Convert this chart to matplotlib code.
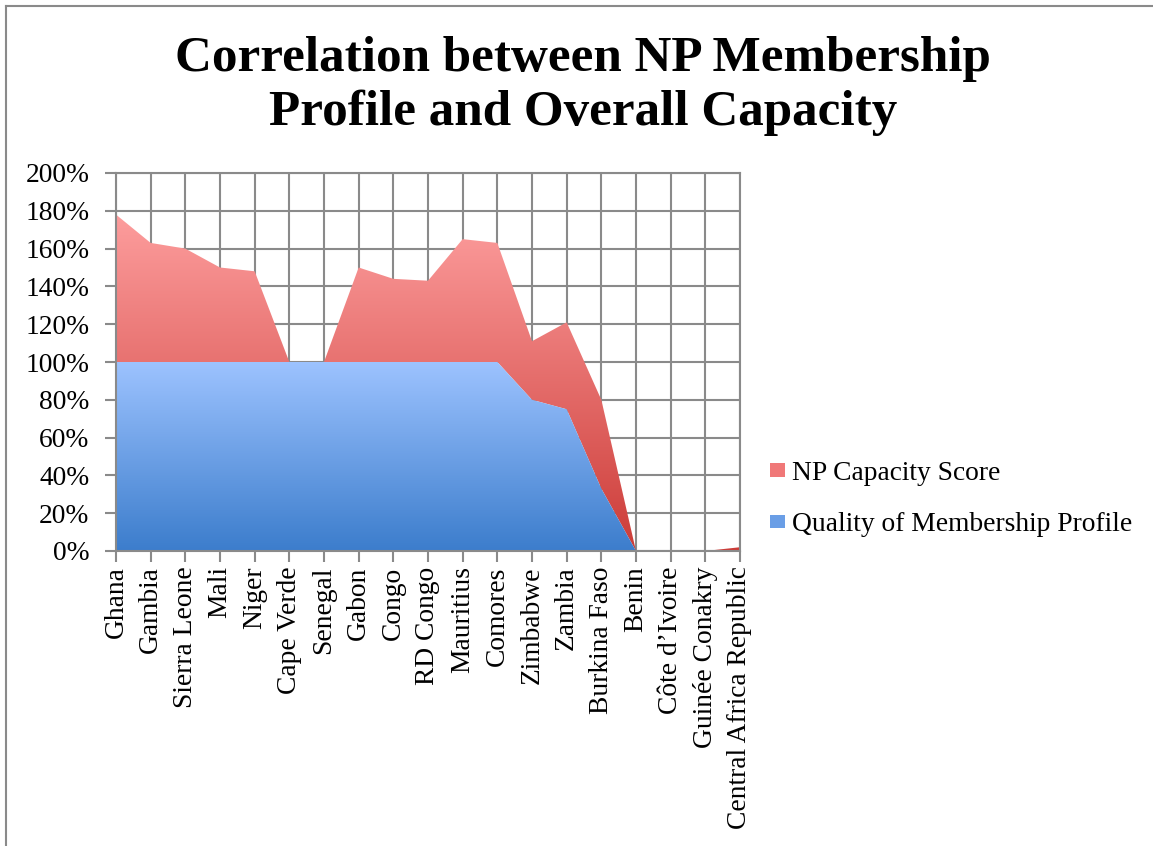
import numpy as np
import matplotlib.pyplot as plt
from matplotlib.colors import LinearSegmentedColormap
from matplotlib.patches import Patch
from matplotlib.lines import Line2D

# Data (percent)
countries = ["Ghana", "Gambia", "Sierra Leone", "Mali", "Niger", "Cape Verde",
             "Senegal", "Gabon", "Congo", "RD Congo", "Mauritius", "Comores",
             "Zimbabwe", "Zambia", "Burkina Faso", "Benin", "Côte d’Ivoire",
             "Guinée Conakry", "Central Africa Republic"]
membership = [100, 100, 100, 100, 100, 100, 100, 100, 100, 100, 100, 100,
              80, 75, 33, 0, 0, 0, 0]
capacity = [78, 63, 60, 50, 48, 0, 0, 50, 44, 43, 65, 63,
            31, 46, 47, 0, 0, 0, 2]

plt.rcParams['font.family'] = ['Liberation Serif', 'DejaVu Serif']

fig = plt.figure(figsize=(11.53, 8.46), dpi=100)
ax = fig.add_axes([116 / 1153, 1 - 551 / 846, 624 / 1153, 378 / 846])

x = np.arange(len(countries))
lower = np.array(membership, dtype=float)
upper = lower + np.array(capacity, dtype=float)


def gradient_fill(ax, x, y0, y1, top_color, bottom_color, vmax):
    poly = ax.fill_between(x, y0, y1, color='none', lw=0)
    cmap = LinearSegmentedColormap.from_list('g', [bottom_color, top_color])
    grad = np.linspace(0, 1, 256).reshape(-1, 1)
    im = ax.imshow(grad, cmap=cmap, aspect='auto', origin='lower',
                   extent=[x[0], x[-1], 0, vmax], zorder=2)
    im.set_clip_path(poly.get_paths()[0], transform=ax.transData)
    return im


gradient_fill(ax, x, lower, upper, '#fd9d9d', '#cc3c38', upper.max())
gradient_fill(ax, x, 0, lower, '#9dc3ff', '#3c7dcc', lower.max())

ax.set_xlim(0, len(countries) - 1)
ax.set_ylim(0, 200)
ax.set_yticks(range(0, 201, 20))
ax.set_yticklabels([f"{v}%" for v in range(0, 201, 20)], fontsize=19.8)
ax.set_xticks(x)
ax.set_xticklabels(countries, rotation=90, fontsize=19.8)
ax.grid(True, color='#8a8a8a', linewidth=1.5, zorder=1)
ax.set_axisbelow(True)
for s in ax.spines.values():
    s.set_color('#8a8a8a')
    s.set_linewidth(1.5)
ax.tick_params(axis='both', color='#8a8a8a', width=1.5, length=8)
ax.tick_params(axis='y', pad=11)
ax.tick_params(axis='x', pad=3)

# title
fig.text(583 / 1153, 1 - 36 / 846, "Correlation between NP Membership\nProfile and Overall Capacity",
         ha='center', va='top', fontsize=36.8, fontweight='bold', linespacing=1.2)

# legend
handles = [Patch(facecolor='#f07878', edgecolor='none'),
           Patch(facecolor='#6a9ee6', edgecolor='none')]
fig.legend(handles, ["NP Capacity Score", "Quality of Membership Profile"],
           loc='center left', bbox_to_anchor=(756 / 1153, 1 - 499 / 846),
           frameon=False, fontsize=19.8, handlelength=0.55, handleheight=0.36,
           handletextpad=0.25, labelspacing=0.95, borderpad=0)

# chart frame (top and left edges)
fig.add_artist(Line2D([6 / 1153, 1], [1 - 6 / 846, 1 - 6 / 846], color='#8a8a8a', lw=1.5,
                      transform=fig.transFigure))
fig.add_artist(Line2D([6 / 1153, 6 / 1153], [0, 1 - 6 / 846], color='#8a8a8a', lw=1.5,
                      transform=fig.transFigure))

fig.savefig("out.png", dpi=100)
